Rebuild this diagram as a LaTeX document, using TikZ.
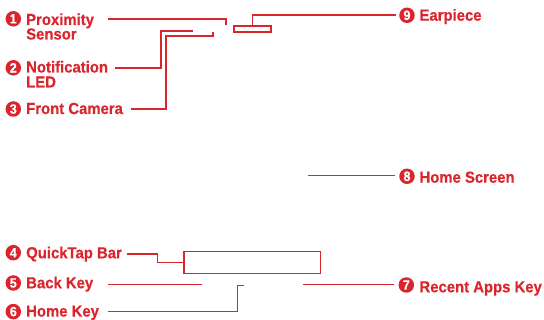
\documentclass[tikz,border=0pt]{standalone}
\usepackage{fontspec}
\setmainfont{Liberation Sans}
\newfontfamily\labfont{Liberation Sans}[FakeStretch=0.93,BoldFeatures={FakeBold=0.4}]
\definecolor{lgred}{RGB}{218,37,45}
\begin{document}
\begin{tikzpicture}[x=1pt,y=-1pt,
  lbl/.style={anchor=base west,inner sep=0pt,font=\labfont\fontsize{16}{18}\selectfont\bfseries,text=lgred},
  num/.style={circle,fill=lgred,inner sep=0pt,minimum size=15.5pt,text=white,font=\labfont\fontsize{13.5}{13.5}\selectfont\bfseries},
  lead/.style={draw=lgred,line width=1.2pt},
  part/.style={draw=lgred,line width=1.2pt,inner sep=0pt,rectangle}]
\useasboundingbox (0,0) rectangle (544,320);
% device parts
\node[part,minimum width=37pt,minimum height=6pt] (ear) at (252.5,29) {};
\node[part,minimum width=136.5pt,minimum height=21.6pt] (qt) at (252.2,262.5) {};
% 1 Proximity Sensor
\node[num] (b1) at (13.3,18.8) {1};
\node[lbl] (t1) at (26,25) {Proximity};
\node[lbl] (t1b) at (26,39.5) {Sensor};
\coordinate (s1) at (108,19);
\coordinate (e1) at (226,25);
\draw[lead] (s1) -| (e1);
% 2 Notification LED
\node[num] (b2) at (13.3,67.8) {2};
\node[lbl] (t2) at (26,72.5) {Notification};
\node[lbl] (t2b) at (26,87.5) {LED};
\coordinate (s2) at (115,68);
\coordinate (e2) at (193,31);
\draw[lead] (s2) -- (161,68) -- (161,31) -- (e2);
% 3 Front Camera
\node[num] (b3) at (13.3,109) {3};
\node[lbl] (t3) at (26,114) {Front Camera};
\coordinate (s3) at (131,109);
\coordinate (e3) at (213,32);
\draw[lead] (s3) -- (166,109) -- (166,36) -- (213,36) -- (e3);
% 9 Earpiece
\coordinate (s9) at (395.7,15);
\node[num] (b9) at (407,15.3) {9};
\node[lbl] (t9) at (419.3,20.7) {Earpiece};
\draw[lead] (ear.north) |- (s9);
% 8 Home Screen
\coordinate (e8) at (308,175.7);
\coordinate (s8) at (395,175.7);
\node[num] (b8) at (407,176.3) {8};
\node[lbl] (t8) at (419.3,182.7) {Home Screen};
\draw[lead] (s8) -- (e8);
% 4 QuickTap Bar
\node[num] (b4) at (13.3,252.7) {4};
\node[lbl] (t4) at (26,258.3) {QuickTap Bar};
\coordinate (s4) at (126.7,254);
\draw[lead] (s4) -- (157.7,254) -- (157.7,262.5) -- (qt.west);
% 5 Back Key
\node[num] (b5) at (13.3,283) {5};
\node[lbl] (t5) at (26,288.3) {Back Key};
\coordinate (s5) at (108.3,284.3);
\coordinate (e5) at (202.3,284.3);
\draw[lead] (s5) -- (e5);
% 6 Home Key
\node[num] (b6) at (13.3,311.6) {6};
\node[lbl] (t6) at (26,316.6) {Home Key};
\coordinate (s6) at (108.3,311.7);
\coordinate (e6) at (244.3,285.7);
\draw[lead] (s6) -- (237.7,311.7) -- (237.7,285.7) -- (e6);
% 7 Recent Apps Key
\coordinate (e7) at (303.3,284.3);
\coordinate (s7) at (394.3,284.3);
\node[num] (b7) at (406.3,285) {7};
\node[lbl] (t7) at (419.3,292.3) {Recent Apps Key};
\draw[lead] (s7) -- (e7);
\end{tikzpicture}
\end{document}
